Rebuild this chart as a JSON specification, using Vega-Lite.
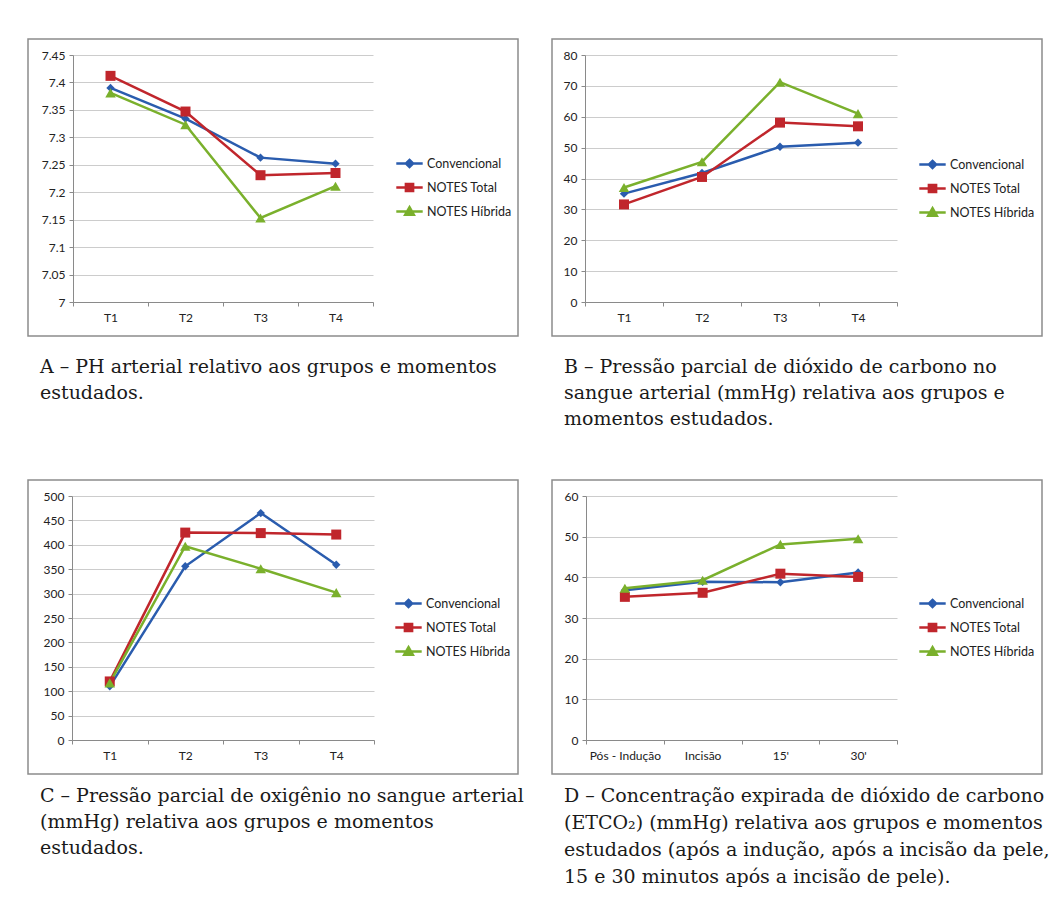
{
  "$schema": "https://vega.github.io/schema/vega-lite/v6.json",
  "background": "white",
  "padding": {"left": 27, "top": 38, "right": 10, "bottom": 10},
  "config": {
    "view": {"stroke": "#8c8c8c", "strokeWidth": 1.5},
    "axis": {"labelFont": "Lato", "labelFontSize": 12, "labelColor": "#222222", "domainColor": "#8a8a8a", "tickColor": "#8a8a8a", "gridColor": "#cccccc", "tickSize": 4, "domainWidth": 1},
    "axisX": {"grid": false, "labelAngle": 0, "tickBand": "extent", "labelPadding": 6, "offset": -34},
    "axisY": {"grid": true, "labelPadding": 4, "ticks": true},
    "title": {"font": "DejaVu Serif", "fontSize": 19, "fontWeight": "normal", "color": "#1a1a1a", "lineHeight": 26, "anchor": "start", "orient": "bottom", "offset": 22, "dx": 12},
    "legend": {"title": null, "symbolSize": 576, "rowPadding": 1, "labelOffset": 4, "labelFont": "Lato", "labelFontSize": 12.5, "labelColor": "#222222"}
  },
  "bounds": "flush",
  "columns": 2,
  "spacing": {"row": 144, "column": 34},
  "resolve": {"scale": {"color": "independent"}, "legend": {"color": "independent"}},
  "concat": [
    {
      "width": 490, "height": 297,
      "title": {"text": ["A – PH arterial relativo aos grupos e momentos", "estudados."], "offset": 22},
      "data": {"values": [
        {"t": "T1", "g": "Convencional", "v": 7.390},
        {"t": "T2", "g": "Convencional", "v": 7.334},
        {"t": "T3", "g": "Convencional", "v": 7.263},
        {"t": "T4", "g": "Convencional", "v": 7.252},
        {"t": "T1", "g": "NOTES Total", "v": 7.412},
        {"t": "T2", "g": "NOTES Total", "v": 7.347},
        {"t": "T3", "g": "NOTES Total", "v": 7.231},
        {"t": "T4", "g": "NOTES Total", "v": 7.235},
        {"t": "T1", "g": "NOTES Híbrida", "v": 7.381},
        {"t": "T2", "g": "NOTES Híbrida", "v": 7.323},
        {"t": "T3", "g": "NOTES Híbrida", "v": 7.153},
        {"t": "T4", "g": "NOTES Híbrida", "v": 7.211}
      ]},
      "encoding": {
        "x": {"field": "t", "type": "nominal", "sort": null, "bandPosition": 0.5, "title": null, "scale": {"type": "band", "range": [45, 345], "paddingInner": 0, "paddingOuter": 0}},
        "y": {"field": "v", "type": "quantitative", "title": null, "scale": {"domain": [7, 7.45], "nice": false, "zero": false, "range": [263, 16]}, "axis": {"offset": -45, "values": [7, 7.05, 7.1, 7.15, 7.2, 7.25, 7.3, 7.35, 7.4, 7.45], "format": "~g"}},
        "color": {"field": "g", "type": "nominal", "sort": null, "scale": {"domain": ["Convencional", "NOTES Total", "NOTES Híbrida"], "range": ["#2a5cae", "#c0262c", "#7ab02c"]},
          "legend": {"orient": "none", "legendX": 368, "legendY": 111,
            "encode": {"symbols": {"update": {
              "shape": {"signal": "datum.value === 'Convencional' ? 'M-1.1,0H1.1M0,-0.3L0.3,0L0,0.3L-0.3,0Z' : datum.value === 'NOTES Total' ? 'M-1.1,0H1.1M-0.3,-0.3H0.3V0.3H-0.3Z' : 'M-1.1,0H1.1M0,-0.36L0.36,0.28H-0.36Z'"},
              "fill": {"signal": "datum.value === 'Convencional' ? '#2a5cae' : datum.value === 'NOTES Total' ? '#c0262c' : '#7ab02c'"},
              "stroke": {"signal": "datum.value === 'Convencional' ? '#2a5cae' : datum.value === 'NOTES Total' ? '#c0262c' : '#7ab02c'"},
              "strokeWidth": {"value": 2.5},
              "opacity": {"value": 1}
            }}}}}
      },
      "layer": [
        {"mark": {"type": "line", "strokeWidth": 2.5}},
        {"transform": [{"filter": "datum.g === 'Convencional'"}], "mark": {"type": "point", "filled": true, "opacity": 1, "shape": "diamond", "size": 70}},
        {"transform": [{"filter": "datum.g === 'NOTES Total'"}], "mark": {"type": "point", "filled": true, "opacity": 1, "shape": "square", "size": 100}},
        {"transform": [{"filter": "datum.g === 'NOTES Híbrida'"}], "mark": {"type": "point", "filled": true, "opacity": 1, "shape": "triangle-up", "size": 110}}
      ]
    },
    {
      "width": 490, "height": 297,
      "title": {"text": ["B – Pressão parcial de dióxido de carbono no", "sangue arterial (mmHg) relativa aos grupos e", "momentos estudados."], "offset": 22},
      "data": {"values": [
        {"t": "T1", "g": "Convencional", "v": 35.1},
        {"t": "T2", "g": "Convencional", "v": 41.8},
        {"t": "T3", "g": "Convencional", "v": 50.3},
        {"t": "T4", "g": "Convencional", "v": 51.6},
        {"t": "T1", "g": "NOTES Total", "v": 31.6},
        {"t": "T2", "g": "NOTES Total", "v": 40.5},
        {"t": "T3", "g": "NOTES Total", "v": 58.1},
        {"t": "T4", "g": "NOTES Total", "v": 56.9},
        {"t": "T1", "g": "NOTES Híbrida", "v": 37.1},
        {"t": "T2", "g": "NOTES Híbrida", "v": 45.4},
        {"t": "T3", "g": "NOTES Híbrida", "v": 71.2},
        {"t": "T4", "g": "NOTES Híbrida", "v": 61.0}
      ]},
      "encoding": {
        "x": {"field": "t", "type": "nominal", "sort": null, "bandPosition": 0.5, "title": null, "scale": {"type": "band", "range": [33, 345], "paddingInner": 0, "paddingOuter": 0}},
        "y": {"field": "v", "type": "quantitative", "title": null, "scale": {"domain": [0, 80], "nice": false, "range": [263, 16]}, "axis": {"offset": -33, "values": [0, 10, 20, 30, 40, 50, 60, 70, 80]}},
        "color": {"field": "g", "type": "nominal", "sort": null, "scale": {"domain": ["Convencional", "NOTES Total", "NOTES Híbrida"], "range": ["#2a5cae", "#c0262c", "#7ab02c"]},
          "legend": {"orient": "none", "legendX": 367, "legendY": 112,
            "encode": {"symbols": {"update": {
              "shape": {"signal": "datum.value === 'Convencional' ? 'M-1.1,0H1.1M0,-0.3L0.3,0L0,0.3L-0.3,0Z' : datum.value === 'NOTES Total' ? 'M-1.1,0H1.1M-0.3,-0.3H0.3V0.3H-0.3Z' : 'M-1.1,0H1.1M0,-0.36L0.36,0.28H-0.36Z'"},
              "fill": {"signal": "datum.value === 'Convencional' ? '#2a5cae' : datum.value === 'NOTES Total' ? '#c0262c' : '#7ab02c'"},
              "stroke": {"signal": "datum.value === 'Convencional' ? '#2a5cae' : datum.value === 'NOTES Total' ? '#c0262c' : '#7ab02c'"},
              "strokeWidth": {"value": 2.5},
              "opacity": {"value": 1}
            }}}}}
      },
      "layer": [
        {"mark": {"type": "line", "strokeWidth": 2.5}},
        {"transform": [{"filter": "datum.g === 'Convencional'"}], "mark": {"type": "point", "filled": true, "opacity": 1, "shape": "diamond", "size": 70}},
        {"transform": [{"filter": "datum.g === 'NOTES Total'"}], "mark": {"type": "point", "filled": true, "opacity": 1, "shape": "square", "size": 100}},
        {"transform": [{"filter": "datum.g === 'NOTES Híbrida'"}], "mark": {"type": "point", "filled": true, "opacity": 1, "shape": "triangle-up", "size": 110}}
      ]
    },
    {
      "width": 490, "height": 294,
      "title": {"text": ["C – Pressão parcial de oxigênio no sangue arterial", "(mmHg) relativa aos grupos e momentos", "estudados."], "offset": 13},
      "data": {"values": [
        {"t": "T1", "g": "Convencional", "v": 110},
        {"t": "T2", "g": "Convencional", "v": 356},
        {"t": "T3", "g": "Convencional", "v": 465},
        {"t": "T4", "g": "Convencional", "v": 359},
        {"t": "T1", "g": "NOTES Total", "v": 120},
        {"t": "T2", "g": "NOTES Total", "v": 425},
        {"t": "T3", "g": "NOTES Total", "v": 424},
        {"t": "T4", "g": "NOTES Total", "v": 421},
        {"t": "T1", "g": "NOTES Híbrida", "v": 117},
        {"t": "T2", "g": "NOTES Híbrida", "v": 397},
        {"t": "T3", "g": "NOTES Híbrida", "v": 351},
        {"t": "T4", "g": "NOTES Híbrida", "v": 302}
      ]},
      "encoding": {
        "x": {"field": "t", "type": "nominal", "sort": null, "bandPosition": 0.5, "title": null, "scale": {"type": "band", "range": [44, 346], "paddingInner": 0, "paddingOuter": 0}},
        "y": {"field": "v", "type": "quantitative", "title": null, "scale": {"domain": [0, 500], "nice": false, "range": [260, 16]}, "axis": {"offset": -44, "values": [0, 50, 100, 150, 200, 250, 300, 350, 400, 450, 500]}},
        "color": {"field": "g", "type": "nominal", "sort": null, "scale": {"domain": ["Convencional", "NOTES Total", "NOTES Híbrida"], "range": ["#2a5cae", "#c0262c", "#7ab02c"]},
          "legend": {"orient": "none", "legendX": 367, "legendY": 110,
            "encode": {"symbols": {"update": {
              "shape": {"signal": "datum.value === 'Convencional' ? 'M-1.1,0H1.1M0,-0.3L0.3,0L0,0.3L-0.3,0Z' : datum.value === 'NOTES Total' ? 'M-1.1,0H1.1M-0.3,-0.3H0.3V0.3H-0.3Z' : 'M-1.1,0H1.1M0,-0.36L0.36,0.28H-0.36Z'"},
              "fill": {"signal": "datum.value === 'Convencional' ? '#2a5cae' : datum.value === 'NOTES Total' ? '#c0262c' : '#7ab02c'"},
              "stroke": {"signal": "datum.value === 'Convencional' ? '#2a5cae' : datum.value === 'NOTES Total' ? '#c0262c' : '#7ab02c'"},
              "strokeWidth": {"value": 2.5},
              "opacity": {"value": 1}
            }}}}}
      },
      "layer": [
        {"mark": {"type": "line", "strokeWidth": 2.5}},
        {"transform": [{"filter": "datum.g === 'Convencional'"}], "mark": {"type": "point", "filled": true, "opacity": 1, "shape": "diamond", "size": 70}},
        {"transform": [{"filter": "datum.g === 'NOTES Total'"}], "mark": {"type": "point", "filled": true, "opacity": 1, "shape": "square", "size": 100}},
        {"transform": [{"filter": "datum.g === 'NOTES Híbrida'"}], "mark": {"type": "point", "filled": true, "opacity": 1, "shape": "triangle-up", "size": 110}}
      ]
    },
    {
      "width": 490, "height": 294,
      "title": {"text": ["D – Concentração expirada de dióxido de carbono", "(ETCO₂) (mmHg) relativa aos grupos e momentos", "estudados (após a indução, após a incisão da pele,", "15 e 30 minutos após a incisão de pele)."], "offset": 13, "lineHeight": 27},
      "data": {"values": [
        {"t": "Pós - Indução", "g": "Convencional", "v": 36.8},
        {"t": "Incisão", "g": "Convencional", "v": 38.9},
        {"t": "15'", "g": "Convencional", "v": 38.8},
        {"t": "30'", "g": "Convencional", "v": 41.2},
        {"t": "Pós - Indução", "g": "NOTES Total", "v": 35.2},
        {"t": "Incisão", "g": "NOTES Total", "v": 36.2},
        {"t": "15'", "g": "NOTES Total", "v": 40.9},
        {"t": "30'", "g": "NOTES Total", "v": 40.1},
        {"t": "Pós - Indução", "g": "NOTES Híbrida", "v": 37.3},
        {"t": "Incisão", "g": "NOTES Híbrida", "v": 39.3},
        {"t": "15'", "g": "NOTES Híbrida", "v": 48.1},
        {"t": "30'", "g": "NOTES Híbrida", "v": 49.5}
      ]},
      "encoding": {
        "x": {"field": "t", "type": "nominal", "sort": null, "bandPosition": 0.5, "title": null, "scale": {"type": "band", "range": [34, 345], "paddingInner": 0, "paddingOuter": 0}},
        "y": {"field": "v", "type": "quantitative", "title": null, "scale": {"domain": [0, 60], "nice": false, "range": [260, 16]}, "axis": {"offset": -34, "values": [0, 10, 20, 30, 40, 50, 60]}},
        "color": {"field": "g", "type": "nominal", "sort": null, "scale": {"domain": ["Convencional", "NOTES Total", "NOTES Híbrida"], "range": ["#2a5cae", "#c0262c", "#7ab02c"]},
          "legend": {"orient": "none", "legendX": 367, "legendY": 110,
            "encode": {"symbols": {"update": {
              "shape": {"signal": "datum.value === 'Convencional' ? 'M-1.1,0H1.1M0,-0.3L0.3,0L0,0.3L-0.3,0Z' : datum.value === 'NOTES Total' ? 'M-1.1,0H1.1M-0.3,-0.3H0.3V0.3H-0.3Z' : 'M-1.1,0H1.1M0,-0.36L0.36,0.28H-0.36Z'"},
              "fill": {"signal": "datum.value === 'Convencional' ? '#2a5cae' : datum.value === 'NOTES Total' ? '#c0262c' : '#7ab02c'"},
              "stroke": {"signal": "datum.value === 'Convencional' ? '#2a5cae' : datum.value === 'NOTES Total' ? '#c0262c' : '#7ab02c'"},
              "strokeWidth": {"value": 2.5},
              "opacity": {"value": 1}
            }}}}}
      },
      "layer": [
        {"mark": {"type": "line", "strokeWidth": 2.5}},
        {"transform": [{"filter": "datum.g === 'Convencional'"}], "mark": {"type": "point", "filled": true, "opacity": 1, "shape": "diamond", "size": 70}},
        {"transform": [{"filter": "datum.g === 'NOTES Total'"}], "mark": {"type": "point", "filled": true, "opacity": 1, "shape": "square", "size": 100}},
        {"transform": [{"filter": "datum.g === 'NOTES Híbrida'"}], "mark": {"type": "point", "filled": true, "opacity": 1, "shape": "triangle-up", "size": 110}}
      ]
    }
  ]
}
